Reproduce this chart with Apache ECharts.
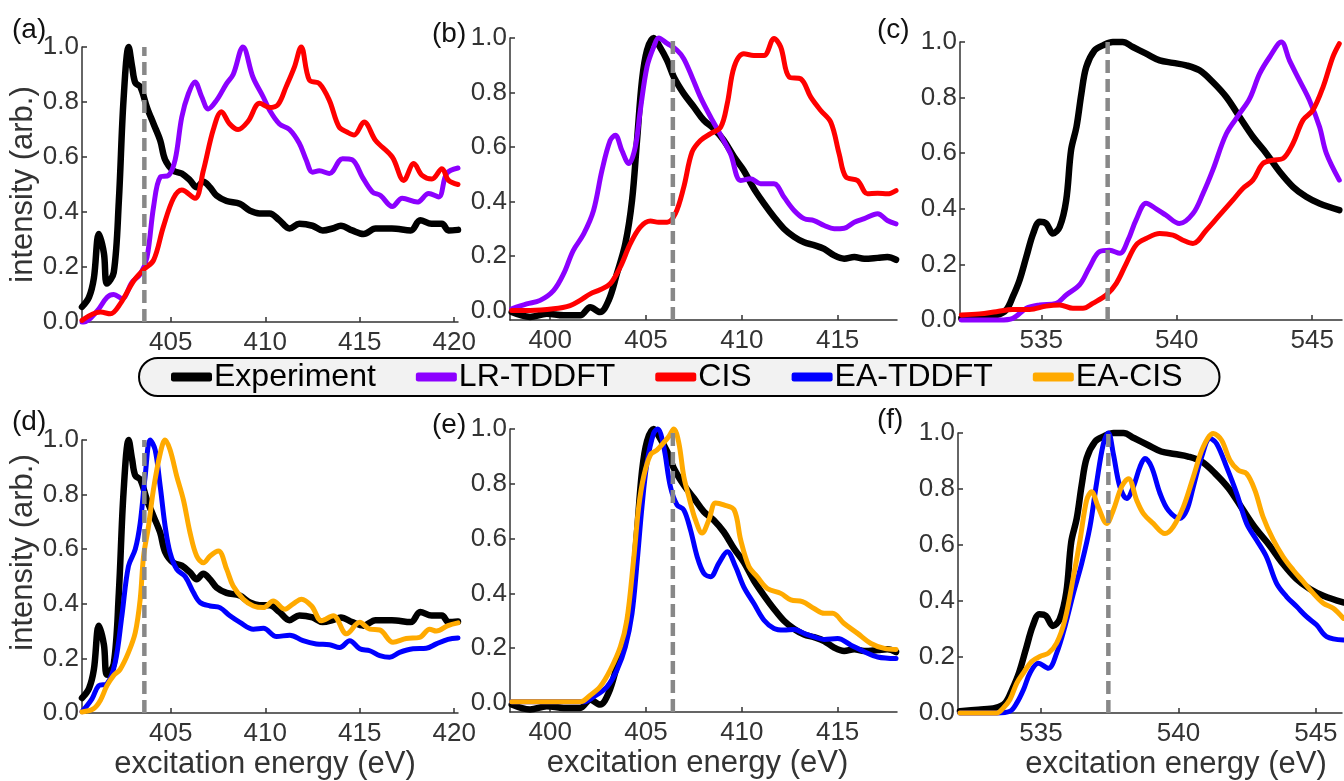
<!DOCTYPE html>
<html>
<head>
<meta charset="utf-8">
<script src="https://cdn.jsdelivr.net/npm/echarts@6/dist/echarts.min.js"></script>
<style>
html, body {margin:0;padding:0;background:#fff;}
#chart {width:1344px;height:781px;}
</style>
</head>
<body>
<div id="chart"></div>
<script>
// ---- set 1 : panels (a) and (d) ----
var exp1X = [400.3, 400.67, 400.93, 401.19, 401.46, 401.62, 401.98, 402.25, 402.5, 402.77, 402.95, 403.12, 403.39, 403.74, 404.09, 404.44, 404.7, 405.14, 405.58, 406.02, 406.37, 406.72, 407.07, 407.42, 407.95, 408.65, 409.18, 409.7, 410.23, 410.75, 411.28, 411.8, 412.5, 413.04, 413.56, 414.0, 414.6, 415.2, 415.84, 416.7, 417.7, 418.2, 418.8, 419.35, 419.7, 420.2];
var exp1Y = [0.055, 0.09, 0.16, 0.32, 0.25, 0.14, 0.18, 0.44, 0.81, 1.0, 0.93, 0.87, 0.855, 0.78, 0.72, 0.66, 0.59, 0.55, 0.54, 0.515, 0.49, 0.51, 0.49, 0.46, 0.44, 0.43, 0.405, 0.395, 0.395, 0.37, 0.34, 0.357, 0.35, 0.333, 0.34, 0.35, 0.333, 0.32, 0.34, 0.34, 0.333, 0.37, 0.357, 0.357, 0.333, 0.335];
var lr1X = [400.3, 400.4, 401.1, 401.63, 401.98, 402.42, 402.95, 403.39, 403.74, 404.09, 404.44, 404.88, 405.23, 405.58, 405.93, 406.28, 406.63, 406.98, 407.42, 407.95, 408.3, 408.82, 409.35, 409.88, 410.23, 410.75, 411.28, 411.8, 412.16, 412.5, 412.86, 413.39, 414.09, 414.6, 415.14, 415.67, 416.1, 416.72, 417.25, 418.04, 418.65, 419.18, 419.6, 420.2];
var lr1Y = [0, 0, 0.04, 0.09, 0.1, 0.085, 0.145, 0.175, 0.235, 0.42, 0.527, 0.533, 0.59, 0.745, 0.83, 0.873, 0.82, 0.775, 0.806, 0.867, 0.9, 1.0, 0.89, 0.82, 0.77, 0.72, 0.70, 0.65, 0.59, 0.545, 0.55, 0.54, 0.594, 0.59, 0.527, 0.473, 0.46, 0.42, 0.45, 0.436, 0.467, 0.455, 0.54, 0.56];
var cis1X = [400.3, 401.28, 401.8, 402.33, 403.04, 403.56, 404.09, 404.6, 405.14, 405.58, 406.28, 406.72, 407.25, 407.68, 408.12, 408.56, 409.09, 409.7, 410.23, 410.67, 411.1, 411.54, 411.9, 412.33, 412.86, 413.39, 413.9, 414.35, 414.7, 415.23, 415.84, 416.72, 417.33, 417.86, 418.3, 418.82, 419.35, 419.7, 420.2];
var cis1Y = [0.006, 0.036, 0.03, 0.067, 0.15, 0.19, 0.225, 0.345, 0.45, 0.48, 0.45, 0.55, 0.70, 0.765, 0.72, 0.70, 0.73, 0.795, 0.78, 0.79, 0.855, 0.927, 1.0, 0.88, 0.867, 0.806, 0.71, 0.69, 0.68, 0.727, 0.66, 0.60, 0.515, 0.576, 0.533, 0.52, 0.557, 0.515, 0.5];
var eaTd1X = [400.3, 400.83, 401.18, 401.62, 402.06, 402.41, 402.76, 403.12, 403.38, 403.64, 403.91, 404.17, 404.44, 404.7, 404.96, 405.32, 405.76, 406.2, 406.55, 407.08, 407.6, 408.13, 408.66, 409.37, 409.9, 410.6, 411.3, 412.0, 412.7, 413.4, 413.94, 414.47, 415.0, 415.53, 416.06, 416.58, 417.11, 417.82, 418.52, 419.05, 419.67, 420.2];
var eaTd1Y = [0.005, 0.052, 0.10, 0.107, 0.186, 0.356, 0.538, 0.60, 0.696, 0.866, 1.0, 0.964, 0.83, 0.684, 0.587, 0.526, 0.50, 0.441, 0.405, 0.392, 0.386, 0.356, 0.332, 0.307, 0.31, 0.28, 0.285, 0.265, 0.253, 0.25, 0.24, 0.265, 0.235, 0.228, 0.21, 0.204, 0.222, 0.235, 0.237, 0.253, 0.27, 0.275];
var eaCis1X = [400.3, 400.92, 401.27, 401.62, 401.97, 402.32, 402.76, 403.12, 403.38, 403.56, 403.82, 404.08, 404.44, 404.7, 404.96, 405.32, 405.67, 406.02, 406.37, 406.73, 407.08, 407.52, 407.96, 408.3, 408.84, 409.37, 409.9, 410.42, 411.04, 411.48, 411.92, 412.45, 412.98, 413.6, 414.3, 415.0, 415.53, 416.06, 416.76, 417.46, 418.17, 418.7, 419.05, 419.67, 420.2];
var eaCis1Y = [0.004, 0.016, 0.046, 0.10, 0.137, 0.16, 0.222, 0.295, 0.417, 0.575, 0.684, 0.818, 0.951, 1.0, 0.964, 0.866, 0.78, 0.66, 0.575, 0.55, 0.575, 0.593, 0.526, 0.465, 0.417, 0.392, 0.386, 0.41, 0.38, 0.40, 0.417, 0.392, 0.338, 0.356, 0.29, 0.332, 0.307, 0.304, 0.259, 0.273, 0.277, 0.307, 0.30, 0.32, 0.33];

// ---- set 2 : panels (b) and (e) ----
var exp2X = [397.99, 398.95, 399.82, 400.7, 401.56, 402.09, 402.6, 403.05, 403.48, 403.92, 404.27, 404.53, 404.79, 405.05, 405.4, 405.66, 406.1, 406.45, 406.97, 407.5, 408.02, 408.54, 409.06, 409.6, 410.1, 410.63, 411.16, 411.68, 412.2, 412.73, 413.25, 413.77, 414.3, 414.82, 415.34, 415.87, 416.39, 417.09, 417.6, 418.05];
var exp2Y = [-0.006, -0.024, -0.012, -0.018, -0.018, 0.012, -0.006, 0.037, 0.135, 0.245, 0.404, 0.624, 0.845, 0.955, 1.0, 0.975, 0.918, 0.857, 0.796, 0.747, 0.698, 0.667, 0.624, 0.563, 0.514, 0.447, 0.392, 0.343, 0.30, 0.27, 0.25, 0.24, 0.226, 0.202, 0.19, 0.196, 0.19, 0.193, 0.196, 0.186];
var lr2X = [397.99, 398.77, 399.47, 400.17, 400.7, 401.2, 401.74, 402.26, 402.7, 403.13, 403.4, 403.74, 404.1, 404.44, 404.7, 405.05, 405.4, 405.66, 406.1, 406.62, 406.97, 407.4, 407.84, 408.37, 408.9, 409.41, 409.94, 410.46, 410.98, 411.68, 412.2, 412.73, 413.25, 413.77, 414.3, 414.82, 415.34, 415.87, 416.39, 417.09, 417.6, 418.05];
var lr2Y = [0.006, 0.024, 0.037, 0.073, 0.135, 0.22, 0.28, 0.367, 0.514, 0.624, 0.643, 0.587, 0.539, 0.60, 0.734, 0.894, 0.967, 1.0, 0.98, 0.955, 0.924, 0.857, 0.783, 0.71, 0.643, 0.575, 0.477, 0.483, 0.465, 0.465, 0.416, 0.367, 0.337, 0.33, 0.312, 0.30, 0.302, 0.324, 0.337, 0.355, 0.33, 0.318];
var cis2X = [397.99, 398.95, 400.17, 401.04, 401.56, 402.09, 402.6, 403.13, 403.66, 404.18, 404.7, 405.23, 405.66, 406.1, 406.53, 406.97, 407.4, 407.84, 408.37, 408.9, 409.24, 409.6, 410.1, 410.63, 411.16, 411.68, 412.03, 412.47, 413.08, 413.6, 414.12, 414.65, 415.08, 415.43, 416.04, 416.56, 417.09, 417.6, 418.05];
var cis2Y = [0, 0, 0.006, 0.018, 0.037, 0.061, 0.076, 0.098, 0.16, 0.245, 0.306, 0.328, 0.324, 0.324, 0.355, 0.453, 0.581, 0.624, 0.649, 0.673, 0.759, 0.894, 0.942, 0.936, 0.936, 0.998, 0.967, 0.857, 0.85, 0.783, 0.734, 0.69, 0.575, 0.49, 0.477, 0.428, 0.43, 0.428, 0.44];
var eaTd2X = [397.99, 399.3, 401.04, 401.74, 402.26, 402.96, 403.48, 403.92, 404.27, 404.53, 404.79, 405.05, 405.4, 405.61, 405.92, 406.27, 406.62, 406.97, 407.32, 407.67, 408.02, 408.37, 408.8, 409.24, 409.67, 410.1, 410.63, 411.16, 411.68, 412.2, 412.73, 413.25, 413.77, 414.3, 415.0, 415.7, 416.39, 417.09, 418.05];
var eaTd2Y = [0.004, 0.004, 0.004, 0.004, 0.022, 0.059, 0.12, 0.205, 0.327, 0.51, 0.717, 0.876, 0.985, 1.0, 0.937, 0.79, 0.723, 0.705, 0.632, 0.534, 0.473, 0.461, 0.51, 0.552, 0.498, 0.424, 0.363, 0.302, 0.272, 0.266, 0.268, 0.254, 0.241, 0.232, 0.235, 0.211, 0.187, 0.168, 0.162];
var eaCis2X = [397.99, 400.17, 401.56, 402.09, 402.6, 403.13, 403.66, 404.0, 404.35, 404.62, 404.88, 405.23, 405.58, 405.92, 406.19, 406.45, 406.71, 406.97, 407.23, 407.58, 407.93, 408.28, 408.63, 409.06, 409.6, 409.94, 410.37, 410.8, 411.33, 412.03, 412.56, 413.16, 413.77, 414.3, 414.74, 415.34, 416.04, 416.74, 417.44, 418.05];
var eaCis2Y = [0.004, 0.004, 0.004, 0.028, 0.059, 0.12, 0.205, 0.302, 0.522, 0.717, 0.827, 0.906, 0.924, 0.95, 0.973, 1.0, 0.95, 0.827, 0.754, 0.668, 0.62, 0.668, 0.73, 0.723, 0.705, 0.595, 0.498, 0.461, 0.418, 0.40, 0.376, 0.37, 0.345, 0.327, 0.327, 0.29, 0.254, 0.217, 0.199, 0.195];

// ---- set 3 : panels (c) and (f) ----
var exp3X = [532.05, 532.72, 533.34, 533.7, 533.95, 534.2, 534.45, 534.7, 534.94, 535.18, 535.43, 535.68, 535.92, 536.1, 536.3, 536.48, 536.66, 536.97, 537.28, 537.64, 538.0, 538.38, 538.87, 539.37, 539.86, 540.35, 540.84, 541.33, 541.83, 542.32, 542.81, 543.3, 543.8, 544.29, 544.78, 545.27, 546.0];
var exp3Y = [0.006, 0.012, 0.018, 0.036, 0.084, 0.144, 0.228, 0.311, 0.353, 0.347, 0.311, 0.335, 0.431, 0.611, 0.695, 0.814, 0.91, 0.97, 0.988, 1.0, 1.0, 0.982, 0.958, 0.934, 0.925, 0.916, 0.898, 0.856, 0.802, 0.73, 0.659, 0.60, 0.533, 0.479, 0.443, 0.419, 0.395];
var lr3X = [532.05, 533.46, 533.95, 534.45, 534.94, 535.55, 535.92, 536.41, 536.78, 537.15, 537.52, 537.9, 538.2, 538.5, 538.87, 539.24, 539.6, 540.1, 540.6, 540.97, 541.33, 541.83, 542.32, 542.69, 543.06, 543.43, 543.86, 544.16, 544.53, 544.9, 545.27, 545.52, 546.0];
var lr3Y = [0, 0, 0.006, 0.042, 0.054, 0.06, 0.09, 0.126, 0.19, 0.246, 0.251, 0.24, 0.287, 0.36, 0.42, 0.40, 0.377, 0.347, 0.383, 0.455, 0.539, 0.67, 0.742, 0.796, 0.886, 0.946, 1.0, 0.934, 0.862, 0.79, 0.695, 0.60, 0.503];
var cis3X = [532.05, 532.72, 533.34, 533.95, 534.57, 535.18, 535.68, 536.17, 536.54, 536.9, 537.4, 537.77, 538.14, 538.5, 538.87, 539.37, 539.86, 540.23, 540.6, 541.09, 541.58, 542.07, 542.44, 542.81, 543.18, 543.55, 543.92, 544.29, 544.66, 545.02, 545.4, 545.76, 546.0];
var cis3Y = [0.018, 0.022, 0.03, 0.038, 0.038, 0.05, 0.054, 0.042, 0.042, 0.06, 0.09, 0.132, 0.204, 0.27, 0.293, 0.311, 0.305, 0.287, 0.275, 0.323, 0.377, 0.431, 0.473, 0.503, 0.563, 0.575, 0.581, 0.635, 0.719, 0.754, 0.838, 0.946, 0.994];
var eaTd3X = [532.05, 533.39, 533.87, 534.12, 534.36, 534.6, 534.9, 535.27, 535.57, 535.87, 536.18, 536.48, 536.78, 537.02, 537.27, 537.45, 537.63, 537.87, 538.12, 538.36, 538.6, 538.78, 539.02, 539.33, 539.63, 540.05, 540.3, 540.54, 540.84, 541.15, 541.39, 541.75, 542.12, 542.48, 542.84, 543.2, 543.57, 543.93, 544.3, 544.66, 545.02, 545.39, 546.0];
var eaTd3Y = [0, 0, 0.006, 0.036, 0.083, 0.143, 0.178, 0.16, 0.214, 0.309, 0.428, 0.534, 0.665, 0.82, 0.962, 1.0, 0.926, 0.808, 0.766, 0.808, 0.879, 0.909, 0.879, 0.784, 0.724, 0.695, 0.724, 0.808, 0.914, 0.98, 0.962, 0.879, 0.784, 0.677, 0.618, 0.558, 0.463, 0.416, 0.38, 0.344, 0.315, 0.273, 0.261];
var eaCis3X = [532.05, 533.39, 533.63, 533.87, 534.12, 534.36, 534.66, 534.96, 535.27, 535.57, 535.87, 536.18, 536.42, 536.66, 536.84, 537.08, 537.39, 537.63, 537.93, 538.18, 538.48, 538.72, 539.08, 539.51, 539.81, 540.18, 540.54, 540.9, 541.27, 541.57, 541.87, 542.18, 542.48, 542.78, 543.08, 543.45, 543.81, 544.18, 544.54, 544.9, 545.27, 545.63, 546.0];
var eaCis3Y = [0, 0, 0.018, 0.048, 0.107, 0.143, 0.184, 0.202, 0.214, 0.25, 0.333, 0.487, 0.618, 0.76, 0.79, 0.736, 0.677, 0.724, 0.808, 0.837, 0.76, 0.713, 0.677, 0.641, 0.665, 0.736, 0.843, 0.95, 0.998, 0.974, 0.903, 0.867, 0.855, 0.796, 0.70, 0.618, 0.558, 0.51, 0.469, 0.428, 0.392, 0.374, 0.338];

// dashed reference energies
var dashX = [403.6, 406.4, 537.45];

// tick labels
var yTicks = [0, 0.2, 0.4, 0.6, 0.8, 1.0];
var xTicks1 = [405, 410, 415, 420];
var xTicks2 = [400, 405, 410, 415];
var xTicks3 = [535, 540, 545];

var legendNames = ['Experiment', 'LR-TDDFT', 'CIS', 'EA-TDDFT', 'EA-CIS'];
var colors = {'Experiment':'#000000', 'LR-TDDFT':'#8c00ff', 'CIS':'#ff0000', 'EA-TDDFT':'#0000ff', 'EA-CIS':'#ffaa00'};

var FONT = 'Liberation Sans';

function zip(xs, ys) {
	var out = [];
	for (var i = 0; i < xs.length; i++) {
		out.push([xs[i], ys[i]]);
	}
	return out;
}

/**
 * panel layout (grid in px + axis ranges)
 */
var panels = [
	{label:'(a)', lx:12, ly:16, left:82, top:47, width:376, height:275, xMin:400.3, xMax:420.2, yMin:0, xTicks:xTicks1, dash:dashX[0], yName:true, xName:false,
		lines:[['Experiment', exp1X, exp1Y], ['LR-TDDFT', lr1X, lr1Y], ['CIS', cis1X, cis1Y]]},
	{label:'(b)', lx:432, ly:20, left:510, top:38, width:387, height:282, xMin:397.9, xMax:418.1, yMin:-0.035, xTicks:xTicks2, dash:dashX[1], yName:false, xName:false,
		lines:[['Experiment', exp2X, exp2Y], ['LR-TDDFT', lr2X, lr2Y], ['CIS', cis2X, cis2Y]]},
	{label:'(c)', lx:877, ly:16, left:960, top:42, width:382, height:278, xMin:532.0, xMax:546.1, yMin:0, xTicks:xTicks3, dash:dashX[2], yName:false, xName:false,
		lines:[['Experiment', exp3X, exp3Y], ['LR-TDDFT', lr3X, lr3Y], ['CIS', cis3X, cis3Y]]},
	{label:'(d)', lx:12, ly:408, left:82, top:440, width:376, height:274, xMin:400.3, xMax:420.2, yMin:0, xTicks:xTicks1, dash:dashX[0], yName:true, xName:true, namePad:[0,10,0,0], yPad:[0,0,0,48],
		lines:[['Experiment', exp1X, exp1Y], ['EA-TDDFT', eaTd1X, eaTd1Y], ['EA-CIS', eaCis1X, eaCis1Y]]},
	{label:'(e)', lx:432, ly:411, left:510, top:429, width:387, height:283, xMin:397.9, xMax:418.1, yMin:-0.033, xTicks:xTicks2, dash:dashX[1], yName:false, xName:true, namePad:[0,12,0,0],
		lines:[['Experiment', exp2X, exp2Y], ['EA-TDDFT', eaTd2X, eaTd2Y], ['EA-CIS', eaCis2X, eaCis2Y]]},
	{label:'(f)', lx:877, ly:406, left:958, top:433, width:384, height:280, xMin:531.98, xMax:545.95, yMin:0, xTicks:xTicks3, dash:dashX[2], yName:false, xName:true, namePad:[0,0,0,52],
		lines:[['Experiment', exp3X, exp3Y], ['EA-TDDFT', eaTd3X, eaTd3Y], ['EA-CIS', eaCis3X, eaCis3Y]]}
];

var grids = [], xAxes = [], yAxes = [], series = [], graphics = [];

for (var i = 0; i < panels.length; i++) {
	var p = panels[i];
	grids.push({left:p.left, top:p.top, width:p.width, height:p.height, containLabel:false});

	var xa = {
		gridIndex:i, type:'value', min:p.xMin, max:p.xMax,
		axisLine:{show:true, onZero:false, lineStyle:{color:'#333', width:1.5}},
		axisTick:{show:true, inside:true, length:5, customValues:p.xTicks, lineStyle:{color:'#333', width:1.5}},
		axisLabel:{customValues:p.xTicks, margin:8, fontSize:26, color:'#333', fontFamily:FONT,
			formatter:function(v){ return Math.round(v).toString(); }},
		splitLine:{show:false}
	};
	if (p.xName) {
		xa.name = 'excitation energy (eV)';
		xa.nameLocation = 'middle';
		xa.nameGap = 36;
		xa.nameTextStyle = {fontSize:31, color:'#333', fontFamily:FONT, padding:p.namePad};
	}
	xAxes.push(xa);

	var ya = {
		gridIndex:i, type:'value', min:p.yMin, max:1,
		axisLine:{show:true, onZero:false, lineStyle:{color:'#333', width:1.5}},
		axisTick:{show:true, inside:true, length:5, customValues:yTicks, lineStyle:{color:'#333', width:1.5}},
		axisLabel:{customValues:yTicks, margin:3, fontSize:26, color:'#333', fontFamily:FONT,
			formatter:function(v){ return v.toFixed(1); }},
		splitLine:{show:false}
	};
	if (p.yName) {
		ya.name = 'intensity (arb.)';
		ya.nameLocation = 'middle';
		ya.nameRotate = 90;
		ya.nameGap = 42;
		ya.nameTextStyle = {fontSize:31, color:'#333', fontFamily:FONT, padding:p.yPad || 0};
	}
	yAxes.push(ya);

	// spectra
	for (var k = 0; k < p.lines.length; k++) {
		var nm = p.lines[k][0];
		series.push({
			name:nm, type:'line', xAxisIndex:i, yAxisIndex:i,
			data:zip(p.lines[k][1], p.lines[k][2]),
			showSymbol:false, symbol:'none', smooth:0.35, clip:false,
			color:colors[nm],
			lineStyle:{color:colors[nm], width:(nm == 'Experiment' ? 6.5 : 5), cap:'round', join:'round'},
			z:2 + k, silent:true, animation:false
		});
	}
	// dashed vertical line
	series.push({
		type:'line', xAxisIndex:i, yAxisIndex:i,
		data:[[p.dash, p.yMin], [p.dash, 1]],
		showSymbol:false, symbol:'none', clip:false,
		lineStyle:{color:'#888888', width:4.5, type:[13, 6]},
		z:10, silent:true, animation:false
	});

	graphics.push({
		type:'text', left:p.lx, top:p.ly,
		style:{text:p.label, fontSize:28, fontFamily:FONT, fill:'#111'}
	});
}

var myChart = echarts.init(document.getElementById('chart'));
var option = {
	backgroundColor:'#ffffff',
	animation:false,
	grid:grids,
	xAxis:xAxes,
	yAxis:yAxes,
	legend:{
		data:legendNames,
		left:139, top:358,
		itemWidth:41, itemHeight:9, itemGap:40,
		icon:'roundRect',
		backgroundColor:'#f2f2f2', borderColor:'#000', borderWidth:2, borderRadius:21,
		padding:[3, 37, 3, 32],
		selectedMode:false,
		textStyle:{fontSize:32, fontFamily:FONT, color:'#000', padding:[0, 0, 0, -3]}
	},
	graphic:graphics,
	series:series
};
myChart.setOption(option, true);
</script>
</body>
</html>
